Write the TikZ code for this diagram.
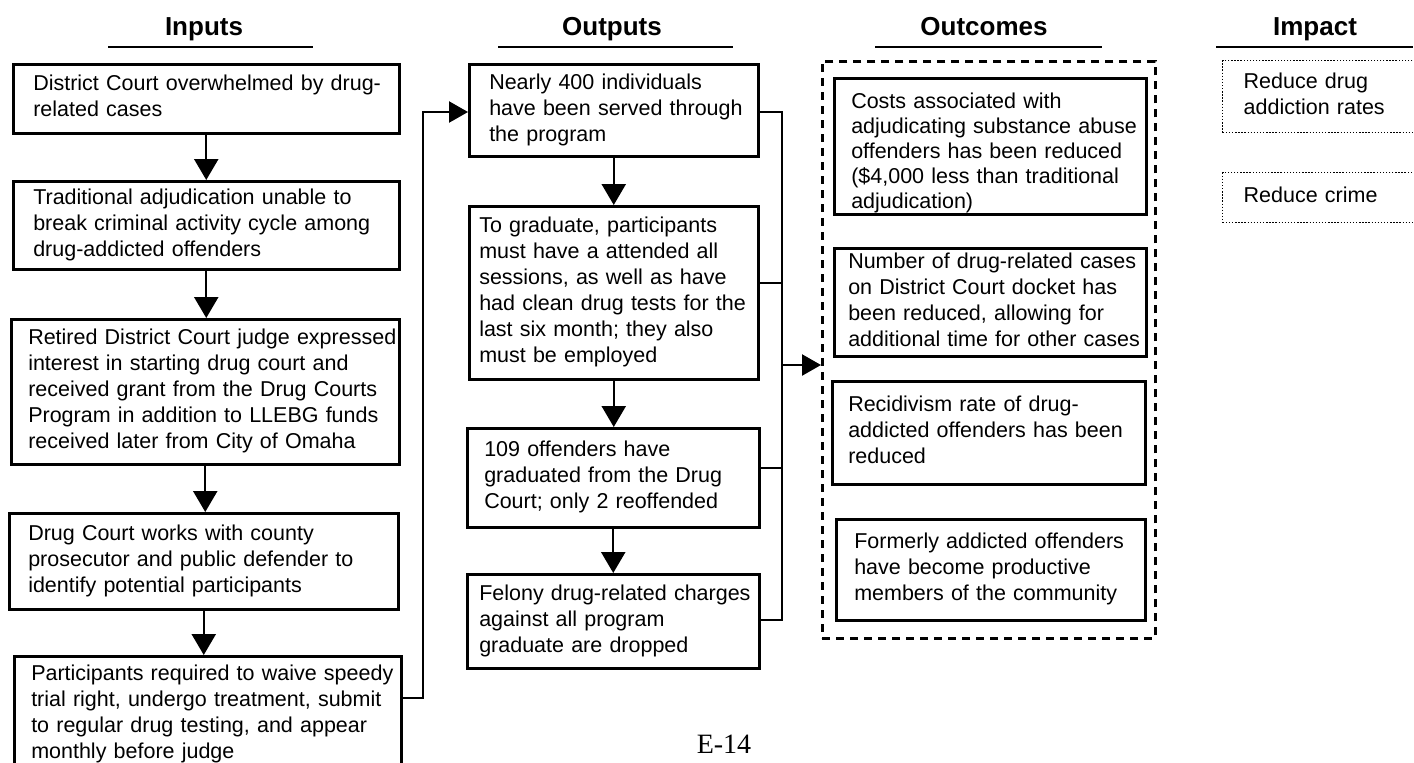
\documentclass[tikz,border=0pt]{standalone}
\usepackage{fontspec}
\setmainfont{Liberation Sans}
\newfontfamily\serifE{Liberation Serif}
\usetikzlibrary{arrows.meta,calc}
\newcommand\bodyfont{\fontsize{21.5}{26}\selectfont}
\newcommand\headfont{\fontsize{26}{30}\selectfont\bfseries}
\newcommand\tx[1]{\begin{tabular}{@{}l@{}}#1\end{tabular}}
\tikzset{
  bx/.style={draw, line width=2.5pt, rectangle, anchor=north west, align=left,
             inner ysep=0pt, font=\bodyfont},
  dotbx/.style={draw, line width=1.4pt, dash pattern=on 1.4pt off 1.7pt, rectangle,
             anchor=north west, align=left, inner ysep=0pt, font=\bodyfont},
  dashbx/.style={draw, line width=2.5pt, dash pattern=on 8pt off 6pt, rectangle,
             anchor=north west, inner sep=0pt},
  head/.style={anchor=base, font=\headfont, inner sep=0pt},
  uline/.style={line width=2.6pt},
  conn/.style={line width=2.4pt},
  varr/.style={line width=2.4pt, -{Triangle[width=24pt,length=21pt]}},
  harr/.style={line width=2.4pt, -{Triangle[width=21pt,length=19pt]}},
}
\begin{document}
\begin{tikzpicture}[x=1pt,y=-1pt]
\useasboundingbox (0,0) rectangle (1414,763);
\clip (0,0) rectangle (1414,763);
\fill[white] (0,0) rectangle (1414,763);

% headers
\node[head] (hin) at (204,35) {Inputs};
\node[head] (hout) at (612,35) {Outputs};
\node[head] (hoc) at (984,35) {Outcomes};
\node[head] (him) at (1315,35) {Impact};
\draw[uline] (108,47) -- (313,47);
\draw[uline] (498,47) -- (733,47);
\draw[uline] (875,47) -- (1102,47);
\draw[uline] (1216,47) -- (1413,47);

% inputs
\node[bx, inner xsep=20pt, text width=346pt, minimum width=386pt, minimum height=69pt] (in1) at (12,63)
  {\tx{District Court overwhelmed by drug-\\related cases}};
\node[bx, inner xsep=20pt, text width=346pt, minimum width=386pt, minimum height=88pt] (in2) at (12,180)
  {\tx{Traditional adjudication unable to\\break criminal activity cycle among\\drug-addicted offenders}};
\node[bx, inner xsep=17pt, text width=354pt, minimum width=388pt, minimum height=145pt] (in3) at (10,318)
  {\tx{Retired District Court judge expressed\\interest in starting drug court and\\received grant from the Drug Courts\\Program in addition to LLEBG funds\\received later from City of Omaha}};
\node[bx, inner xsep=19pt, text width=351pt, minimum width=389pt, minimum height=96pt] (in4) at (8,512)
  {\tx{Drug Court works with county\\prosecutor and public defender to\\identify potential participants}};
\node[bx, inner xsep=17pt, text width=353pt, minimum width=387pt, minimum height=117pt] (in5) at (13,655)
  {\tx{Participants required to waive speedy\\trial right, undergo treatment, submit\\to regular drug testing, and appear\\monthly before judge}};

% outputs
\node[bx, inner xsep=20pt, text width=249pt, minimum width=289pt, minimum height=92pt] (o1) at (468,63)
  {\tx{Nearly 400 individuals\\have been served through\\the program}};
\node[bx, inner xsep=10pt, text width=269pt, minimum width=289pt, minimum height=173pt] (o2) at (468,205)
  {\tx{To graduate, participants\\must have a attended all\\sessions, as well as have\\had clean drug tests for the\\last six month; they also\\must be employed}};
\node[bx, inner xsep=17pt, text width=258pt, minimum width=292pt, minimum height=99pt] (o3) at (466,427)
  {\tx{109 offenders have\\graduated from the Drug\\Court; only 2 reoffended}};
\node[bx, inner xsep=12pt, text width=268pt, minimum width=292pt, minimum height=94pt] (o4) at (466,573)
  {\tx{Felony drug-related charges\\against all program\\graduate are dropped}};

% outcomes
\node[dashbx, minimum width=333pt, minimum height=577pt] (outc) at (821,60) {};
\node[bx, inner xsep=17pt, text width=278pt, minimum width=312pt, minimum height=136pt,
      font=\fontsize{21.5}{25}\selectfont] (c1) at (833,77)
  {\raisebox{-7pt}[\height][\depth]{\tx{Costs associated with\\adjudicating substance abuse\\offenders has been reduced\\(\$4,000 less than traditional\\adjudication)}}};
\node[bx, inner xsep=14pt, text width=284pt, minimum width=312pt, minimum height=108pt] (c2) at (833,247)
  {\tx{Number of drug-related cases\\on District Court docket has\\been reduced, allowing for\\additional time for other cases}};
\node[bx, inner xsep=16pt, text width=281pt, minimum width=313pt, minimum height=103pt] (c3) at (831,380)
  {\tx{Recidivism rate of drug-\\addicted offenders has been\\reduced}};
\node[bx, inner xsep=18pt, text width=273pt, minimum width=309pt, minimum height=101pt] (c4) at (835,518)
  {\tx{Formerly addicted offenders\\have become productive\\members of the community}};

% impact
\node[dotbx, inner xsep=21pt, text width=178pt, minimum width=220pt, minimum height=72pt] (i1) at (1222,60)
  {\tx{Reduce drug\\addiction rates}};
\node[dotbx, inner xsep=21pt, text width=178pt, minimum width=220pt, minimum height=50pt] (i2) at (1222,172)
  {\tx{Reduce crime}};

% input arrows
\draw[varr] (in1.south) -- (in1.south |- in2.north);
\draw[varr] (in2.south) -- (in2.south |- in3.north);
\draw[varr] (in3.south) -- (in3.south |- in4.north);
\draw[varr] (in4.south) -- (in4.south |- in5.north);

% feedback from last input to first output
\coordinate (fb) at (423,698);
\coordinate (ft) at (423,112);
\draw[harr] (fb -| in5.east) -- (fb) -- (ft) -- (ft -| o1.west);

% output arrows
\draw[varr] (o1.south) -- (o1.south |- o2.north);
\draw[varr] (o2.south) -- (o2.south |- o3.north);
\draw[varr] (o3.south) -- (o3.south |- o4.north);

% bus to outcomes
\coordinate (bt) at (782,112);
\coordinate (b2) at (782,283);
\coordinate (bm) at (782,365);
\coordinate (b3) at (782,468);
\coordinate (bb) at (782,620);
\draw[conn] (bt -| o1.east) -- (bt) -- (bb) -- (bb -| o4.east);
\draw[conn] (b2 -| o2.east) -- (b2);
\draw[conn] (b3 -| o3.east) -- (b3);
\draw[harr] (bm) -- (bm -| outc.west);

% page number
\node[anchor=base, font=\serifE\fontsize{28}{32}\selectfont, inner sep=0pt] (pg) at (724,753) {E-14};
\end{tikzpicture}
\end{document}
